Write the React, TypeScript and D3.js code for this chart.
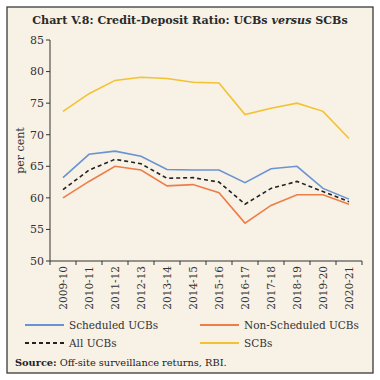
import React from "react";
import * as d3 from "d3";

const categories = ["2009-10","2010-11","2011-12","2012-13","2013-14","2014-15","2015-16","2016-17","2017-18","2018-19","2019-20","2020-21"];
const scheduledUCBs = [63.2, 66.9, 67.4, 66.6, 64.5, 64.4, 64.4, 62.4, 64.6, 65.0, 61.5, 59.8];
const nonScheduledUCBs = [60.0, 62.6, 65.0, 64.4, 61.9, 62.1, 60.8, 56.0, 58.8, 60.5, 60.5, 59.0];
const allUCBs = [61.3, 64.4, 66.1, 65.4, 63.1, 63.2, 62.5, 59.0, 61.5, 62.6, 61.0, 59.4];
const scbs = [73.7, 76.5, 78.6, 79.1, 78.9, 78.3, 78.2, 73.2, 74.2, 75.0, 73.7, 69.4];
const yTicks = [50, 55, 60, 65, 70, 75, 80, 85];

const series = [
  { name: "Scheduled UCBs", values: scheduledUCBs, color: "#6a93d4", dash: "" },
  { name: "Non-Scheduled UCBs", values: nonScheduledUCBs, color: "#ee7d48", dash: "" },
  { name: "All UCBs", values: allUCBs, color: "#222222", dash: "4,3" },
  { name: "SCBs", values: scbs, color: "#f3c233", dash: "" },
];

const FONT = "'DejaVu Serif', serif";

export default function App() {
  const left = 50, right = 362, top = 40, bottom = 261;
  const x = d3.scaleBand<string>().domain(categories).range([left, right]);
  const y = d3.scaleLinear().domain([50, 85]).range([bottom, top]);
  const line = d3.line<number>()
    .x((_, i) => (x(categories[i]) as number) + x.bandwidth() / 2)
    .y((d) => y(d));

  const legend = [
    { s: series[0], lx: 25, ly: 325 },
    { s: series[1], lx: 200, ly: 325 },
    { s: series[2], lx: 25, ly: 343 },
    { s: series[3], lx: 200, ly: 343 },
  ];

  return (
    <svg width={380} height={380} style={{ position: "absolute", left: 0, top: 0 }} fontFamily={FONT}>
      <rect x={0} y={0} width={380} height={380} fill="#ffffff" />
      <rect x={7} y={7} width={366} height={366} fill="#f8f1e5" stroke="#3a3a3a" strokeWidth={1.3} />
      <text x={190} y={24} textAnchor="middle" fontSize={11.1} fontWeight="bold" fill="#2a2a2a">
        Chart V.8: Credit-Deposit Ratio: UCBs <tspan fontStyle="italic">versus</tspan> SCBs
      </text>
      <line x1={left} x2={left} y1={top} y2={bottom} stroke="#333" strokeWidth={1} />
      {yTicks.map((t) => (
        <g key={t}>
          <line x1={left - 4} x2={left} y1={y(t)} y2={y(t)} stroke="#333" />
          <text x={left - 6} y={y(t)} dy="0.35em" textAnchor="end" fontSize={11} fill="#333">{t}</text>
        </g>
      ))}
      <text transform={`translate(24,${(top + bottom) / 2}) rotate(-90)`} textAnchor="middle" fontSize={11} fill="#333">per cent</text>
      <line x1={left} x2={right} y1={bottom} y2={bottom} stroke="#333" />
      {categories.map((c, i) => (
        <line key={"t" + i} x1={x(c) as number} x2={x(c) as number} y1={bottom} y2={bottom + 4} stroke="#333" />
      ))}
      <line x1={right} x2={right} y1={bottom} y2={bottom + 4} stroke="#333" />
      {categories.map((c) => {
        const cx = (x(c) as number) + x.bandwidth() / 2;
        return (
          <text key={c} transform={`translate(${cx + 4},${bottom + 5}) rotate(-90)`} textAnchor="end" fontSize={10.5} fill="#333">{c}</text>
        );
      })}
      {series.map((s) => (
        <path key={s.name} d={line(s.values) || ""} fill="none" stroke={s.color} strokeWidth={1.6} strokeDasharray={s.dash} />
      ))}
      {legend.map(({ s, lx, ly }) => (
        <g key={s.name}>
          <line x1={lx} x2={lx + 39} y1={ly} y2={ly} stroke={s.color} strokeWidth={2} strokeDasharray={s.dash} />
          <text x={lx + 44} y={ly} dy="0.35em" fontSize={10.5} fill="#333">{s.name}</text>
        </g>
      ))}
      <text x={15} y={363} dy="0.35em" fontSize={9.8} fill="#222">
        <tspan fontWeight="bold">Source:</tspan> Off-site surveillance returns, RBI.
      </text>
    </svg>
  );
}
